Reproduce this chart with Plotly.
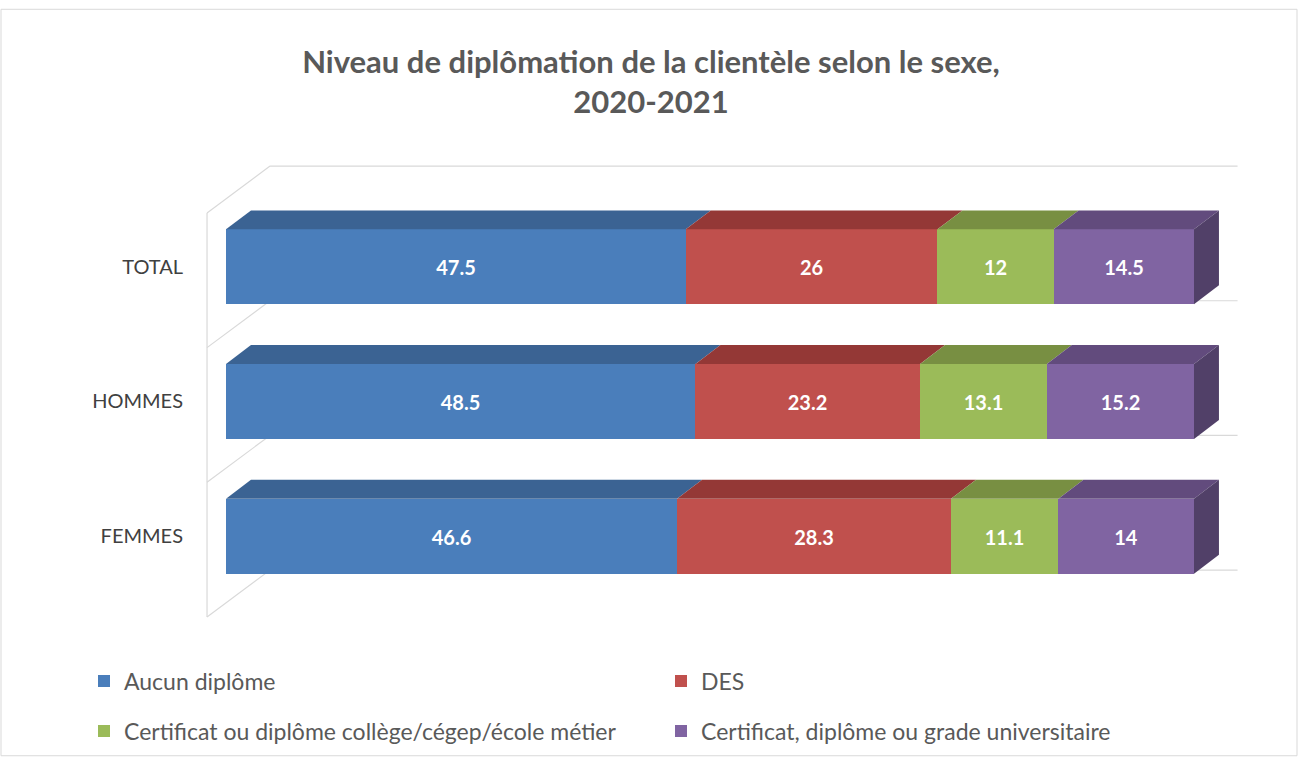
import numpy as np
import plotly.graph_objects as go

# ---------------- data ----------------
categories = ["FEMMES", "HOMMES", "TOTAL"]
series_names = [
    "Aucun diplôme",
    "DES",
    "Certificat ou diplôme collège/cégep/école métier",
    "Certificat, diplôme ou grade universitaire",
]
aucun = [46.6, 48.5, 47.5]
des = [28.3, 23.2, 26.0]
college = [11.1, 13.1, 12.0]
univ = [14.0, 15.2, 14.5]
values = [aucun, des, college, univ]
labels = [["46.6", "48.5", "47.5"], ["28.3", "23.2", "26"], ["11.1", "13.1", "12"], ["14", "15.2", "14.5"]]

front_colors = ["#4A7EBB", "#C0504D", "#9BBB59", "#8064A2"]
top_colors = ["#3B6393", "#943836", "#788F42", "#624B7D"]
side_color = "#514068"

# ---------------- layout geometry ----------------
W, H = 1302, 763
ML, MR, MT, MB = 200, 57, 150, 133
PW, PH = W - ML - MR, H - MT - MB
X_RANGE = [-2.686, 105.27]
Y_RANGE = [-0.689, 2.867]
BAR_W = 0.556
# 3D depth of bars (data units)
BDX, BDY = 2.58, 0.1407
# wall geometry (data units)
WALL_X = -1.96
WDX, WDY = 6.51, 0.348
BACK_END = 104.5

def px_x(p):
    return (p - ML) / PW

def px_y(p):
    return (H - MB - p) / PH

fig = go.Figure()
ypos = np.arange(len(categories))
for k, (name, vals) in enumerate(zip(series_names, values)):
    fig.add_trace(go.Bar(
        name=name, y=ypos, x=vals, orientation="h", width=BAR_W,
        marker=dict(color=front_colors[k], line=dict(width=0)),
        text=labels[k], textposition="inside", insidetextanchor="middle",
        textangle=0, constraintext="none",
        textfont=dict(family="Lato", size=20, color="white", weight="bold"),
        hoverinfo="skip",
        legend="legend" if k < 2 else "legend2",
    ))

shapes = []
# walls / gridlines (behind)
bounds = [i - 0.6 for i in range(len(categories) + 1)]
wall_line = dict(color="#D9D9D9", width=1.2)
shapes.append(dict(type="line", xref="x", yref="y", x0=WALL_X, x1=WALL_X,
                   y0=bounds[0], y1=bounds[-1], line=wall_line, layer="below"))
for b in bounds:
    shapes.append(dict(type="line", xref="x", yref="y", x0=WALL_X, y0=b,
                       x1=WALL_X + WDX, y1=b + WDY, line=wall_line, layer="below"))
    shapes.append(dict(type="line", xref="x", yref="y", x0=WALL_X + WDX, y0=b + WDY,
                       x1=BACK_END, y1=b + WDY, line=wall_line, layer="below"))

# 3D top faces and right side
cum = np.cumsum(np.array(values), axis=0)
starts = cum - np.array(values)
for j in range(len(categories)):
    ytop = ypos[j] + BAR_W / 2
    ybot = ypos[j] - BAR_W / 2
    for k in range(len(values)):
        x0, x1 = starts[k, j], cum[k, j]
        path = (f"M {x0},{ytop} L {x1},{ytop} L {x1 + BDX},{ytop + BDY} "
                f"L {x0 + BDX},{ytop + BDY} Z")
        shapes.append(dict(type="path", xref="x", yref="y", path=path,
                           fillcolor=top_colors[k], line=dict(width=0), layer="above"))
    xe = cum[-1, j]
    path = (f"M {xe},{ybot} L {xe},{ytop} L {xe + BDX},{ytop + BDY} "
            f"L {xe + BDX},{ybot + BDY} Z")
    shapes.append(dict(type="path", xref="x", yref="y", path=path,
                       fillcolor=side_color, line=dict(width=0), layer="above"))

# outer border of chart
shapes.append(dict(type="rect", xref="paper", yref="paper",
                   x0=px_x(1), x1=px_x(1297), y0=px_y(757), y1=px_y(9),
                   line=dict(color="#D9D9D9", width=1), layer="below"))

legend_common = dict(
    orientation="h", entrywidth=532, entrywidthmode="pixels", itemwidth=30,
    font=dict(family="Lato", size=23, color="#595959"),
    bgcolor="rgba(0,0,0,0)", xanchor="left", yanchor="middle",
    traceorder="normal",
)

fig.update_layout(
    width=W, height=H, autosize=False,
    margin=dict(l=ML, r=MR, t=MT, b=MB, pad=0),
    paper_bgcolor="white", plot_bgcolor="rgba(0,0,0,0)",
    barmode="stack", bargap=0,
    title=dict(
        text="Niveau de diplômation de la clientèle selon le sexe,<br>2020-2021",
        x=0.5, xanchor="center", xref="container",
        y=1 - 73 / H, yanchor="middle", yref="container",
        font=dict(family="Lato", size=31, color="#595959", weight="bold"),
    ),
    xaxis=dict(range=X_RANGE, visible=False, fixedrange=True),
    yaxis=dict(range=Y_RANGE, tickmode="array", tickvals=ypos, ticktext=categories,
               showgrid=False, zeroline=False, showline=False, ticks="",
               ticklabelstandoff=16,
               tickfont=dict(family="Lato", size=20, color="#404040")),
    legend=dict(x=px_x(84), y=px_y(681), **legend_common),
    legend2=dict(x=px_x(84), y=px_y(731), **legend_common),
    shapes=shapes,
    showlegend=True,
)

fig.write_html("out.html")
